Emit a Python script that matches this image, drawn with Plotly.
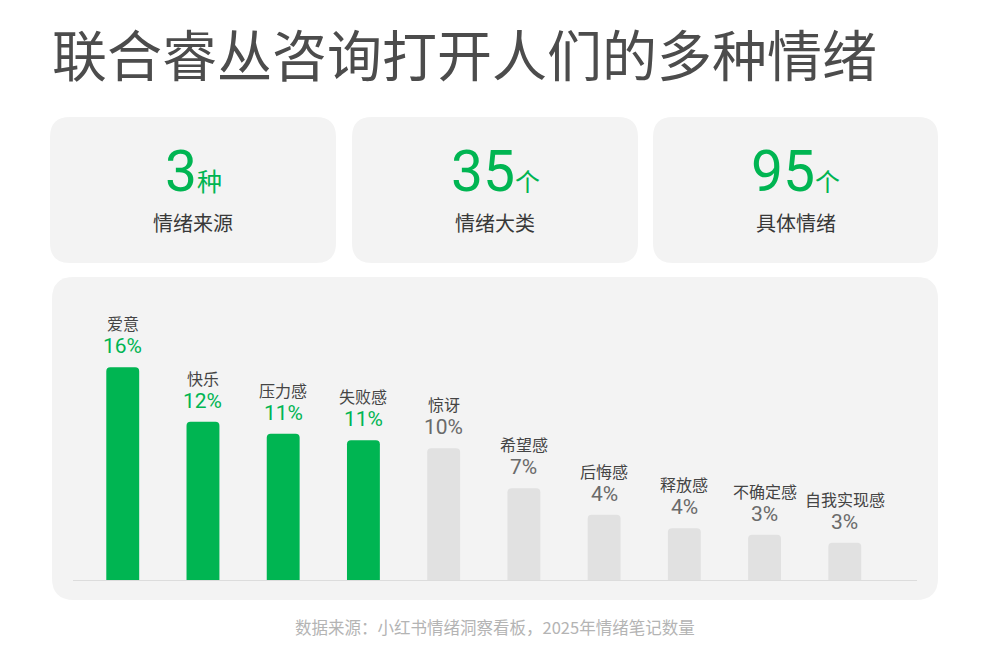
import plotly.graph_objects as go

# ---------------- data ----------------
title_text = "联合睿丛咨询打开人们的多种情绪"
card_numbers = ["3", "35", "95"]
card_units = ["种", "个", "个"]
card_labels = ["情绪来源", "情绪大类", "具体情绪"]

categories = ["爱意", "快乐", "压力感", "失败感", "惊讶", "希望感", "后悔感", "释放感", "不确定感", "自我实现感"]
values = [16.0, 11.9, 11.0, 10.5, 9.9, 6.9, 4.9, 3.9, 3.4, 2.8]
pct_labels = ["16%", "12%", "11%", "11%", "10%", "7%", "4%", "4%", "3%", "3%"]
highlight_count = 4
source_text = "数据来源：小红书情绪洞察看板，2025年情绪笔记数量"

# ---------------- style ----------------
W, H = 990, 660
GREEN = "#00B552"
GRAY_BAR = "#E1E1E1"
PANEL = "#F3F3F3"
CJK = "Noto Sans CJK SC"
NUM = "Roboto, Noto Sans CJK SC"


def px(x):
    return x / W


def py(y):
    return 1 - y / H


def rrect(x0, y0, x1, y1, r):
    pts = [
        ("M", x0 + r, y0),
        ("L", x1 - r, y0), ("Q", x1, y0, x1, y0 + r),
        ("L", x1, y1 - r), ("Q", x1, y1, x1 - r, y1),
        ("L", x0 + r, y1), ("Q", x0, y1, x0, y1 - r),
        ("L", x0, y0 + r), ("Q", x0, y0, x0 + r, y0),
    ]
    s = ""
    for p in pts:
        cmd = p[0]
        coords = p[1:]
        vals = []
        for i in range(0, len(coords), 2):
            vals.append(f"{px(coords[i]):.5f},{py(coords[i+1]):.5f}")
        s += cmd + " " + " ".join(vals) + " "
    return s + "Z"


bar_colors = [GREEN if i < highlight_count else GRAY_BAR for i in range(len(categories))]
pct_colors = [GREEN if i < highlight_count else "#6a6a6a" for i in range(len(categories))]

fig = go.Figure()
fig.add_trace(go.Bar(
    x=categories, y=values, marker=dict(color=bar_colors, line=dict(width=0)),
    width=0.41, hoverinfo="skip", cliponaxis=False,
))

shapes = []
# cards
card_boxes = [(50, 117, 336, 263), (352, 117, 638, 263), (653, 117, 938, 263)]
for (x0, y0, x1, y1) in card_boxes:
    shapes.append(dict(type="path", xref="paper", yref="paper", path=rrect(x0, y0, x1, y1, 20),
                       fillcolor=PANEL, line=dict(width=0), layer="below"))
# chart panel
shapes.append(dict(type="path", xref="paper", yref="paper", path=rrect(52, 277, 938, 600, 22),
                   fillcolor=PANEL, line=dict(width=0), layer="below"))

annotations = []
annotations.append(dict(text=title_text, x=px(50), y=py(52), xref="paper", yref="paper",
                        xanchor="left", yanchor="middle", showarrow=False,
                        font=dict(family=CJK, size=55, color="#4c4c4c", weight=400)))

for i, (x0, y0, x1, y1) in enumerate(card_boxes):
    cx = (x0 + x1) / 2
    annotations.append(dict(
        text=f"<span style='font-size:57px'>{card_numbers[i]}</span><span style='font-size:25px;font-family:{CJK}'>{card_units[i]}</span>",
        x=px(cx), y=py(193), xref="paper", yref="paper", xanchor="center", yanchor="bottom",
        yshift=-14, showarrow=False, font=dict(family=NUM, size=57, color=GREEN, weight=400)))
    annotations.append(dict(text=card_labels[i], x=px(cx), y=py(222), xref="paper", yref="paper",
                            xanchor="center", yanchor="middle", showarrow=False,
                            font=dict(family=CJK, size=20, color="#383838")))

for i, c in enumerate(categories):
    annotations.append(dict(text=c, x=c, y=values[i], xref="x", yref="y", xanchor="center",
                            yanchor="middle", yshift=44, showarrow=False,
                            font=dict(family=CJK, size=16, color="#444444")))
    annotations.append(dict(text=pct_labels[i], x=c, y=values[i], xref="x", yref="y", xanchor="center",
                            yanchor="middle", yshift=21, showarrow=False,
                            font=dict(family=NUM, size=21, color=pct_colors[i])))

annotations.append(dict(text=source_text, x=px(495), y=py(627), xref="paper", yref="paper",
                        xanchor="center", yanchor="middle", showarrow=False,
                        font=dict(family=CJK, size=16.5, color="#b4b4b4")))

fig.update_layout(
    width=W, height=H, margin=dict(l=0, r=0, t=0, b=0),
    paper_bgcolor="white", plot_bgcolor="rgba(0,0,0,0)",
    showlegend=False, barcornerradius=4,
    shapes=shapes, annotations=annotations,
    xaxis=dict(domain=[px(73), px(917)], range=[-0.62, 9.9], showticklabels=False, ticks="",
               showgrid=False, zeroline=False, showline=True, linecolor="#DCDCDC", linewidth=1,
               fixedrange=True),
    yaxis=dict(domain=[py(580), py(314)], range=[0, 20], visible=False, showgrid=False, zeroline=False,
               fixedrange=True),
)

fig.write_html("out.html", config={"displayModeBar": False},
               post_script="document.body.style.margin='0';")
